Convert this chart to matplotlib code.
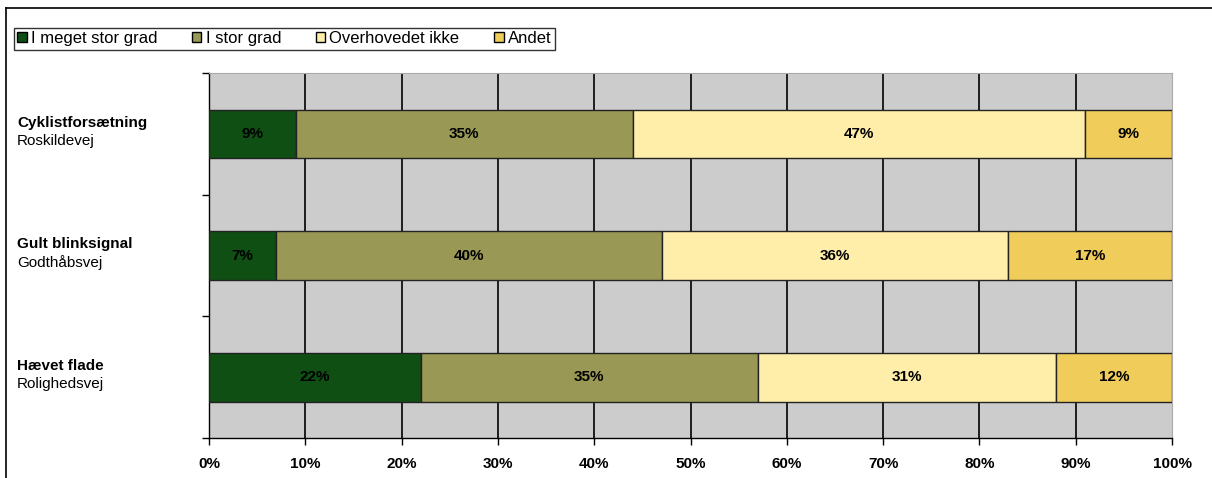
import matplotlib.pyplot as plt
from matplotlib.lines import Line2D
import matplotlib.transforms as mtransforms

plt.rcParams['font.family'] = ['Liberation Sans', 'DejaVu Sans']

# Data
titles = ['Cyklistforsætning', 'Gult blinksignal', 'Hævet flade']
subtitles = ['Roskildevej', 'Godthåbsvej', 'Rolighedsvej']
series = ['I meget stor grad', 'I stor grad', 'Overhovedet ikke', 'Andet']
meget_stor = [9, 7, 22]
stor = [35, 40, 35]
overhovedet_ikke = [47, 36, 31]
andet = [9, 17, 12]
values = [meget_stor, stor, overhovedet_ikke, andet]
colors = ['#0f4f14', '#999955', '#ffeeaa', '#f0cc5a']
xticks = [0, 10, 20, 30, 40, 50, 60, 70, 80, 90, 100]

fig = plt.figure(figsize=(12.12, 4.78), dpi=100)
ax = fig.add_axes([209 / 1212, 1 - 438 / 478, 963 / 1212, 365 / 478])
ax.set_facecolor('#cccccc')

ypos = list(range(len(titles)))
left = [0] * len(titles)
for name, vals, col in zip(series, values, colors):
    ax.barh(ypos, vals, left=left, height=0.4, color=col,
            edgecolor='#222222', linewidth=1, label=name, zorder=3)
    for y, l, v in zip(ypos, left, vals):
        ax.text(l + v / 2, y, f'{v}%', ha='center', va='center',
                fontsize=11, fontweight='bold', color='black', zorder=4)
    left = [a + b for a, b in zip(left, vals)]

for x in xticks[1:-1]:
    ax.axvline(x, color='black', linewidth=1.2, zorder=1)

ax.set_xlim(0, 100)
ax.set_ylim(len(titles) - 0.5, -0.5)
ax.set_xticks(xticks)
ax.set_xticklabels([f'{x}%' for x in xticks], fontsize=11, fontweight='bold')
ax.set_yticks([-0.5, 0.5, 1.5, 2.5])
ax.set_yticklabels([])
ax.tick_params(axis='x', length=5, width=1, pad=9)
ax.tick_params(axis='y', length=5, width=1)

for s in ['top', 'right']:
    ax.spines[s].set_color('#aaaaaa')
ax.spines['left'].set_color('black')
ax.spines['bottom'].set_color('black')
ax.spines['left'].set_linewidth(1)
ax.spines['bottom'].set_linewidth(1)

trans = mtransforms.blended_transform_factory(fig.transFigure, ax.transData)
for y, t, s in zip(ypos, titles, subtitles):
    ax.annotate(t, xy=(17 / 1212, y), xycoords=trans, xytext=(0, 8),
                textcoords='offset points', ha='left', va='center',
                fontsize=11, fontweight='bold', annotation_clip=False)
    ax.annotate(s, xy=(17 / 1212, y), xycoords=trans, xytext=(0, -5),
                textcoords='offset points', ha='left', va='center',
                fontsize=11, annotation_clip=False)

leg = fig.legend(loc='upper left', bbox_to_anchor=(14 / 1212, 1 - 28 / 478),
                 ncol=4, fontsize=12, frameon=True, fancybox=False,
                 handlelength=0.55, handleheight=0.55, handletextpad=0.25,
                 columnspacing=2.1, borderpad=0.2, borderaxespad=0)
leg.get_frame().set_edgecolor('black')
leg.get_frame().set_linewidth(1)
for h in leg.legend_handles:
    h.set_edgecolor('black')
    h.set_linewidth(1)

# outer frame
fig.add_artist(Line2D([6 / 1212, 1], [1 - 8 / 478, 1 - 8 / 478], color='black', linewidth=1.2,
                      transform=fig.transFigure))
fig.add_artist(Line2D([6 / 1212, 6 / 1212], [0, 1 - 8 / 478], color='black', linewidth=1.2,
                      transform=fig.transFigure))

fig.savefig('out.png', dpi=100)
